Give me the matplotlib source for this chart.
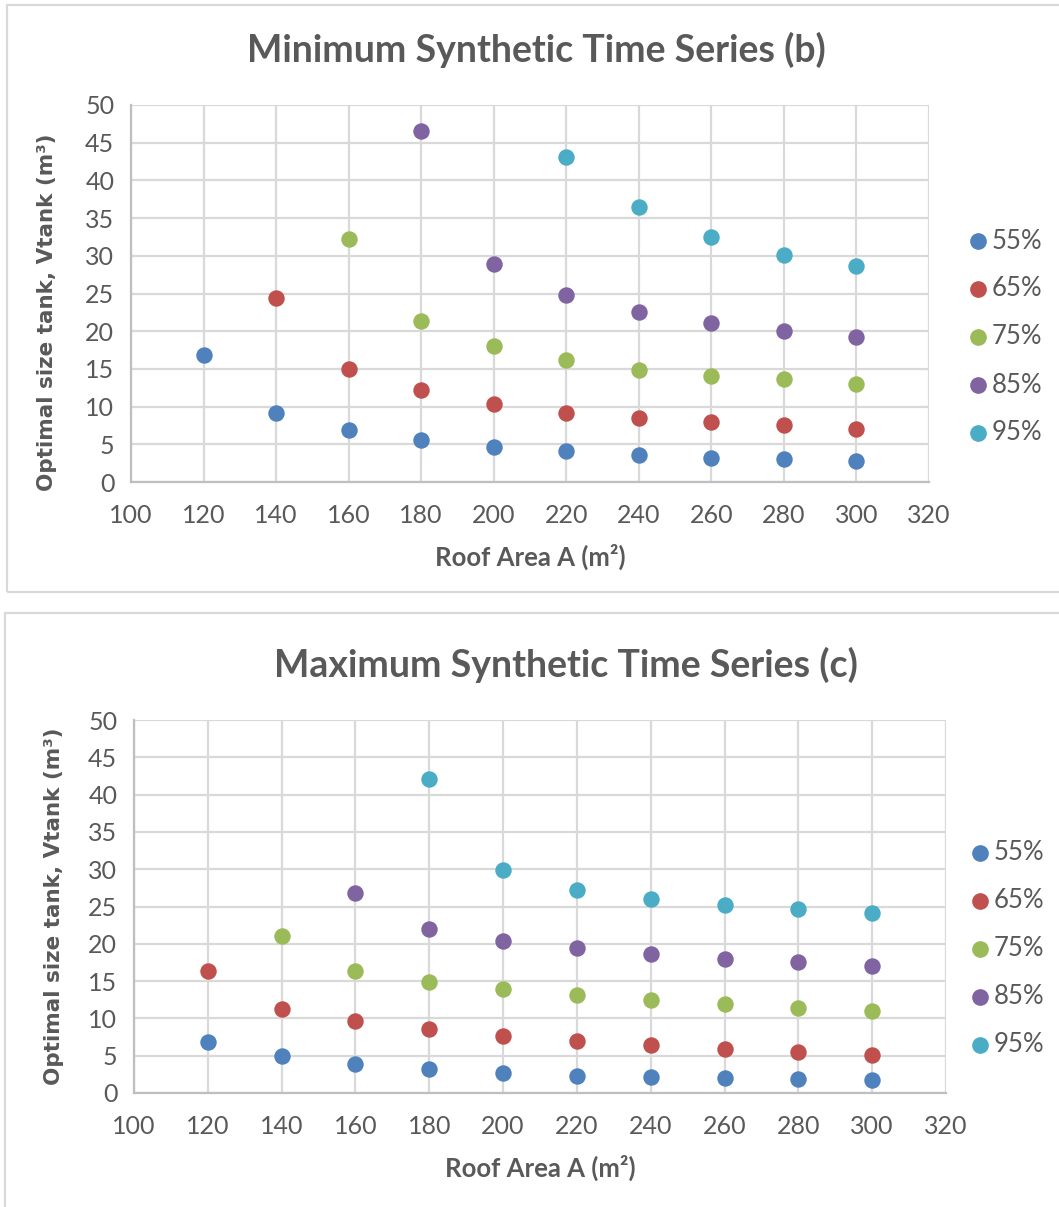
import matplotlib
matplotlib.use("Agg")
import matplotlib.pyplot as plt
from matplotlib.patches import Rectangle

# roof areas (m2) shared by both scenarios
roof_area = [120, 140, 160, 180, 200, 220, 240, 260, 280, 300]
levels = ["55%", "65%", "75%", "85%", "95%"]
colors = ["#4F81BD", "#C0504D", "#9BBB59", "#8064A2", "#4BACC6"]

# optimal tank size (m3), minimum synthetic series; None = no solution
min_55 = [16.8, 9.2, 6.9, 5.6, 4.65, 4.05, 3.6, 3.2, 3.0, 2.8]
min_65 = [None, 24.4, 15.0, 12.2, 10.3, 9.2, 8.5, 8.0, 7.5, 7.0]
min_75 = [None, None, 32.2, 21.3, 18.0, 16.2, 14.9, 14.1, 13.6, 13.0]
min_85 = [None, None, None, 46.6, 28.9, 24.8, 22.5, 21.1, 20.0, 19.2]
min_95 = [None, None, None, None, None, 43.1, 36.5, 32.5, 30.1, 28.6]

# optimal tank size (m3), maximum synthetic series
max_55 = [6.8, 4.9, 3.9, 3.2, 2.7, 2.3, 2.1, 2.0, 1.9, 1.8]
max_65 = [16.3, 11.3, 9.7, 8.6, 7.7, 7.0, 6.4, 5.9, 5.5, 5.1]
max_75 = [None, 21.1, 16.4, 14.9, 14.0, 13.2, 12.4, 11.9, 11.4, 11.0]
max_85 = [None, None, 26.8, 22.0, 20.4, 19.4, 18.6, 18.0, 17.5, 17.0]
max_95 = [None, None, None, 42.1, 29.9, 27.2, 26.0, 25.2, 24.7, 24.1]

x_ticks = list(range(100, 340, 20))
y_ticks = list(range(0, 55, 5))

W, H = 1059, 1207
fig = plt.figure(figsize=(W / 100, H / 100), dpi=100)
fig.patch.set_facecolor("white")

TXT = "#595959"
FONT = "Lato"


def fx(px):
    return px / W


def fy(py):
    return 1 - py / H


def draw_panel(rect, series, title, title_xy, xlab_xy, ylab_xy, leg_x, leg_y0):
    l, t, r, b = rect
    ax = fig.add_axes([fx(l), fy(b), fx(r) - fx(l), fy(t) - fy(b)])
    for vals, c, lab in zip(series, colors, levels):
        xs = [a for a, v in zip(roof_area, vals) if v is not None]
        ys = [v for v in vals if v is not None]
        ax.scatter(xs, ys, s=140, color=c, label=lab, zorder=3, linewidths=0)
    ax.set_xlim(100, 320)
    ax.set_ylim(0, 50)
    ax.set_xticks(x_ticks)
    ax.set_yticks(y_ticks)
    ax.grid(True, color="#D9D9D9", linewidth=1.6, zorder=0)
    ax.set_axisbelow(True)
    for side in ["top", "right"]:
        ax.spines[side].set_visible(False)
    for side in ["left", "bottom"]:
        ax.spines[side].set_color("#BFBFBF")
        ax.spines[side].set_linewidth(1.6)
    ax.tick_params(length=0, labelsize=18, labelcolor=TXT)
    ax.tick_params(axis="x", pad=16)
    ax.tick_params(axis="y", pad=12)
    for lab in ax.get_xticklabels() + ax.get_yticklabels():
        lab.set_fontfamily(FONT)

    fig.text(fx(title_xy[0]), fy(title_xy[1]), title, ha="center", va="center",
             fontsize=27, fontweight="bold", color=TXT, family=FONT)
    fig.text(fx(xlab_xy[0]), fy(xlab_xy[1]), "Roof Area A (m²)", ha="center",
             va="center", fontsize=18.5, fontweight="bold", color=TXT, family=FONT)
    fig.text(fx(ylab_xy[0]), fy(ylab_xy[1]), "Optimal size tank, Vtank (m³)",
             ha="center", va="center", rotation=90, fontsize=15.5,
             fontweight="bold", color=TXT, family="DejaVu Sans")

    # legend drawn as a column of markers and labels
    for i, (c, lab) in enumerate(zip(colors, levels)):
        yy = leg_y0 + i * 48
        fig.add_artist(plt.Line2D([fx(leg_x)], [fy(yy)], marker="o", markersize=11,
                                  color=c, linestyle="none",
                                  transform=fig.transFigure))
        fig.text(fx(leg_x + 14), fy(yy), lab, ha="left", va="center",
                 fontsize=18.5, color=TXT, family=FONT)
    return ax


# light frames around each chart
fig.add_artist(Rectangle((fx(7), fy(592)), fx(1070) - fx(7), fy(5) - fy(592),
                         transform=fig.transFigure, fill=False,
                         edgecolor="#D9D9D9", linewidth=1.6))
fig.add_artist(Rectangle((fx(5), fy(1215)), fx(1070) - fx(5), fy(613) - fy(1215),
                         transform=fig.transFigure, fill=False,
                         edgecolor="#D9D9D9", linewidth=1.6))

draw_panel((131, 105, 929, 482), [min_55, min_65, min_75, min_85, min_95],
           "Minimum Synthetic Time Series (b)", (536, 50), (530, 557), (47, 312),
           978, 241)
draw_panel((134, 720, 946, 1093), [max_55, max_65, max_75, max_85, max_95],
           "Maximum Synthetic Time Series (c)", (566, 665), (540, 1168), (54, 906),
           980, 853)

fig.savefig("out.png", dpi=100, facecolor="white")
